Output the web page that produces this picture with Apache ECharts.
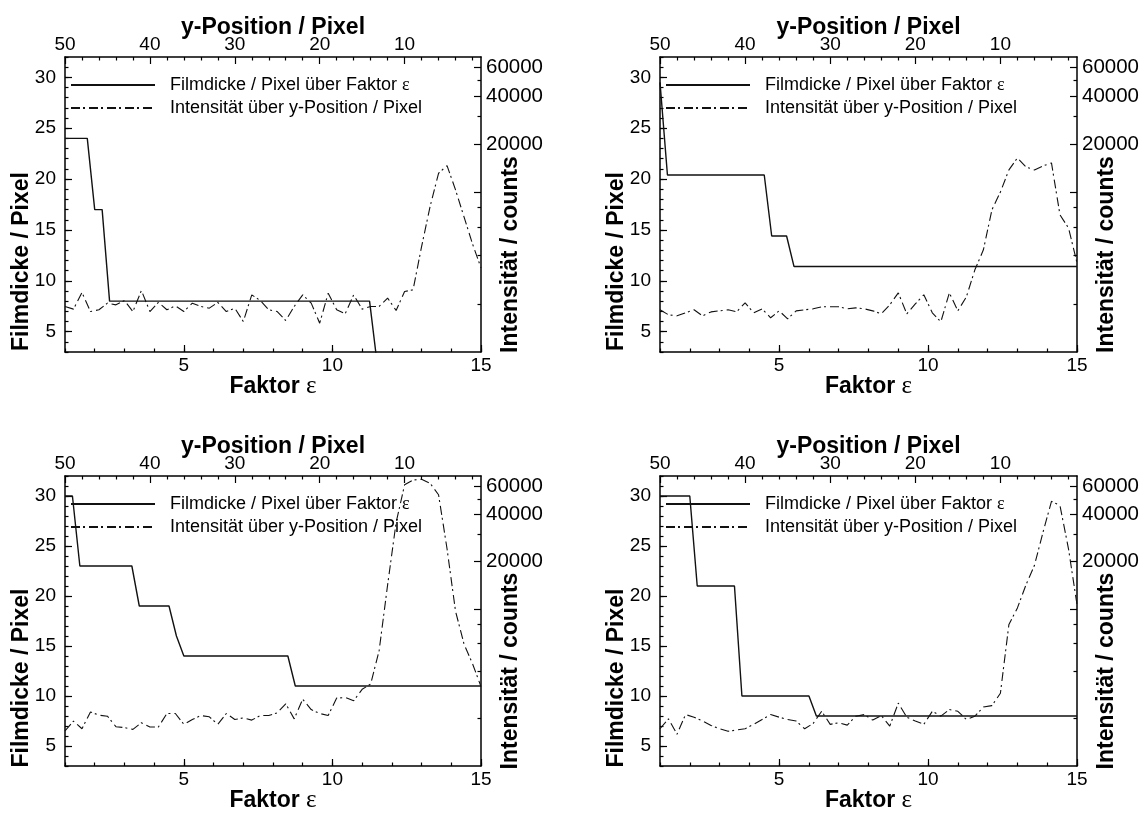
<!DOCTYPE html>
<html>
<head>
<meta charset="utf-8">
<title>Filmdicke / Intensität</title>
<script src="https://cdn.jsdelivr.net/npm/echarts@6/dist/echarts.min.js"></script>
<style>
  html, body { margin: 0; padding: 0; background: #fff; }
  #main { width: 1148px; height: 814px; }
</style>
</head>
<body>
<div id="main"></div>
<script>
// film thickness (Filmdicke / Pixel) over Faktor eps, corner points per panel
const epsTL = [1, 1.75, 2, 2.25, 2.5, 11.25, 11.5];
const filmTL = [24, 24, 17, 17, 8, 8, 2];
const epsTR = [1, 1.25, 4.5, 4.75, 5.25, 5.5, 15];
const filmTR = [29.5, 20.4, 20.4, 14.4, 14.4, 11.4, 11.4];
const epsBL = [1, 1.25, 1.5, 3.25, 3.5, 4.5, 4.75, 5, 8.5, 8.75, 15];
const filmBL = [30, 30, 23, 23, 19, 19, 16, 14, 14, 11, 11];
const epsBR = [1, 2, 2.25, 3.5, 3.75, 6, 6.25, 15];
const filmBR = [30, 30, 21, 21, 10, 10, 8, 8];

// y-Position / Pixel (top axis)
const yPos = [50, 49, 48, 47, 46, 45, 44, 43, 42, 41, 40, 39, 38, 37, 36, 35, 34, 33, 32, 31,
  30, 29, 28, 27, 26, 25, 24, 23, 22, 21, 20, 19, 18, 17, 16, 15, 14, 13, 12, 11,
  10, 9, 8, 7, 6, 5, 4, 3, 2, 1];

// Intensität / counts over y-Position
const intTL = [1927, 1854, 2355, 1791, 1837, 2021, 1972, 2099, 1791, 2425,
  1791, 2042, 1837, 1944, 1791, 2021, 1927, 1880, 2042, 1791,
  1880, 1552, 2278, 2099, 1837, 1791, 1574, 1927, 2278, 2021,
  1514, 2333, 1837, 1734, 2278, 1854, 1927, 1927, 2173, 1820,
  2388, 2449, 4560, 8110, 13120, 14650, 10330, 7000, 4745, 3360];
const intTR = [1836, 1708, 1683, 1758, 1836, 1683, 1782, 1809, 1836, 1782,
  2030, 1758, 1862, 1637, 1809, 1613, 1809, 1836, 1862, 1917,
  1917, 1917, 1862, 1888, 1862, 1809, 1733, 1972, 2344, 1733,
  2000, 2278, 1758, 1545, 2344, 1809, 2213, 3266, 4355, 7745,
  10020, 13770, 16360, 14370, 13770, 14580, 15220, 7200, 5970, 3610];
const intBL = [1671, 1932, 1726, 2208, 2104, 2075, 1778, 1754, 1710, 1884,
  1770, 1770, 2158, 2158, 1841, 1977, 2094, 2056, 1841, 2158,
  1977, 2023, 1959, 2094, 2094, 2178, 2489, 1995, 2661, 2286,
  2158, 2094, 2704, 2729, 2600, 3076, 3319, 5420, 14190, 35400,
  61500, 66070, 66680, 62950, 53200, 24100, 9660, 5970, 4477, 3200];
const intBR = [1726, 1995, 1592, 2124, 2045, 1932, 1813, 1726, 1663, 1694,
  1726, 1841, 1977, 2124, 2045, 1977, 1932, 1726, 1866, 2229,
  1841, 1884, 1820, 2075, 2124, 1959, 2094, 1795, 2512, 2045,
  1932, 1841, 2229, 2075, 2286, 2229, 1977, 2075, 2371, 2421,
  2904, 7962, 10140, 14190, 18920, 30620, 48310, 45400, 24100, 10640];

// tick labels
const epsLabels = [5, 10, 15];
const posLabels = [10, 20, 30, 40, 50];
const posMinor = [2, 4, 6, 8, 12, 14, 16, 18, 22, 24, 26, 28, 32, 34, 36, 38, 42, 44, 46, 48];
const filmLabels = [5, 10, 15, 20, 25, 30];
const countLabels = [20000, 40000, 60000];
const countMajor = [10000, 20000, 40000, 60000];
const countMinor = [2000, 4000, 6000, 8000, 30000, 50000];

const nameFilm = 'Filmdicke / Pixel über Faktor ε';
const nameInt = 'Intensität über y-Position / Pixel';

const FONT = '"Liberation Sans", Arial, Helvetica, sans-serif';
const SERIF = '"Liberation Serif", "Times New Roman", serif';
const black = '#000';

const chart = echarts.init(document.getElementById('main'), null, { renderer: 'canvas' });

const grids = [], xAxes = [], yAxes = [], series = [], legends = [];

const tickLine = { color: black, width: 1.2 };
const lblStyle = { color: black, fontSize: 19, fontFamily: FONT };
const titleStyle = { color: black, fontSize: 23, fontWeight: 'bold', fontFamily: FONT };

function pairs(xs, ys) {
  return xs.map((x, k) => [x, ys[k]]);
}

function addPanel(box, eps, film, inten) {
  const g = grids.length;
  grids.push({ left: box[0], top: box[1], width: box[2], height: box[3], containLabel: false });
  const xi = xAxes.length, yi = yAxes.length;

  // Faktor eps, bottom
  xAxes.push({
    gridIndex: g, type: 'value', position: 'bottom', min: 1, max: 15,
    axisLine: { show: true, onZero: false, lineStyle: { color: black, width: 1.5 } },
    axisTick: { show: true, inside: true, length: 7, customValues: epsLabels, lineStyle: tickLine },
    axisLabel: Object.assign({ customValues: epsLabels, margin: 4 }, lblStyle),
    splitLine: { show: false },
    name: '{b|Faktor }{e|ε}', nameLocation: 'middle', nameGap: 22, nameMoveOverlap: false,
    nameTextStyle: { rich: { b: titleStyle, e: { color: black, fontSize: 25, fontFamily: SERIF } } }
  });
  xAxes.push({
    gridIndex: g, type: 'value', position: 'bottom', min: 1, max: 15, interval: 1,
    axisLine: { show: false }, axisLabel: { show: false }, splitLine: { show: false },
    axisTick: { show: true, inside: true, length: 3.5, lineStyle: tickLine }
  });
  // y-Position, top
  xAxes.push({
    gridIndex: g, type: 'value', position: 'top', min: 1, max: 50, inverse: true,
    axisLine: { show: true, onZero: false, lineStyle: { color: black, width: 1.5 } },
    axisTick: { show: true, inside: true, length: 7, customValues: posLabels, lineStyle: tickLine },
    axisLabel: Object.assign({ customValues: posLabels, margin: 3 }, lblStyle),
    splitLine: { show: false },
    name: 'y-Position / Pixel', nameLocation: 'middle', nameGap: 18, nameMoveOverlap: false,
    nameTextStyle: titleStyle
  });
  xAxes.push({
    gridIndex: g, type: 'value', position: 'top', min: 1, max: 50, inverse: true,
    axisLine: { show: false }, axisLabel: { show: false }, splitLine: { show: false },
    axisTick: { show: true, inside: true, length: 3.5, customValues: posMinor, lineStyle: tickLine }
  });

  // Filmdicke, left
  yAxes.push({
    gridIndex: g, type: 'value', position: 'left', min: 3, max: 32,
    axisLine: { show: true, onZero: false, lineStyle: { color: black, width: 1.5 } },
    axisTick: { show: true, inside: true, length: 7, customValues: filmLabels, lineStyle: tickLine },
    axisLabel: Object.assign({ customValues: filmLabels, margin: 9 }, lblStyle),
    splitLine: { show: false },
    name: 'Filmdicke / Pixel', nameLocation: 'middle', nameGap: 32, nameMoveOverlap: false,
    nameTextStyle: Object.assign({ padding: [0, 114, 0, 0] }, titleStyle)
  });
  yAxes.push({
    gridIndex: g, type: 'value', position: 'left', min: 3, max: 32, interval: 1,
    axisLine: { show: false }, axisLabel: { show: false }, splitLine: { show: false },
    axisTick: { show: true, inside: true, length: 3.5, lineStyle: tickLine }
  });
  // Intensität, right (log)
  yAxes.push({
    gridIndex: g, type: 'log', logBase: 10, position: 'right', min: 1000, max: 70000,
    axisLine: { show: true, onZero: false, lineStyle: { color: black, width: 1.5 } },
    axisTick: { show: true, inside: true, length: 7, customValues: countMajor, lineStyle: tickLine },
    axisLabel: Object.assign({}, lblStyle, {
      customValues: countLabels, margin: 5, fontSize: 20.5, formatter: v => String(Math.round(v))
    }),
    splitLine: { show: false },
    name: 'Intensität / counts', nameLocation: 'middle', nameGap: 18, nameMoveOverlap: false,
    nameTextStyle: Object.assign({ padding: [0, 100, 0, 0] }, titleStyle)
  });
  yAxes.push({
    gridIndex: g, type: 'log', logBase: 10, position: 'right', min: 1000, max: 70000,
    axisLine: { show: false }, axisLabel: { show: false }, splitLine: { show: false },
    axisTick: { show: true, inside: true, length: 3.5, customValues: countMinor, lineStyle: tickLine }
  });

  series.push({
    name: nameFilm, type: 'line', xAxisIndex: xi, yAxisIndex: yi,
    data: pairs(eps, film), symbol: 'none', clip: true, animation: false,
    lineStyle: { color: '#111', width: 1.4, type: 'solid' }, z: 3
  });
  series.push({
    name: nameInt, type: 'line', xAxisIndex: xi + 2, yAxisIndex: yi + 2,
    data: pairs(yPos, inten), symbol: 'none', clip: true, animation: false,
    lineStyle: { color: '#111', width: 1.1, type: [9, 3, 2, 4] }, z: 3
  });

  legends.push({
    left: box[0], top: box[1] + 14, orient: 'vertical',
    itemWidth: 84, itemHeight: 14, itemGap: 5, selectedMode: false,
    data: [nameFilm, nameInt],
    formatter: n => n.replace('ε', '{e|ε}'),
    itemStyle: { opacity: 0 },
    textStyle: {
      color: black, fontSize: 18, fontFamily: FONT, padding: [0, 0, 0, 10],
      rich: { e: { color: black, fontSize: 18, fontFamily: SERIF } }
    }
  });
}

addPanel([65, 57, 416, 295], epsTL, filmTL, intTL);
addPanel([660, 57, 417, 295], epsTR, filmTR, intTR);
addPanel([65, 476, 416, 295], epsBL, filmBL, intBL);
addPanel([660, 476, 417, 295], epsBR, filmBR, intBR);

chart.setOption({
  backgroundColor: '#fff',
  animation: false,
  textStyle: { fontFamily: FONT },
  grid: grids,
  xAxis: xAxes,
  yAxis: yAxes,
  legend: legends,
  series: series
});
</script>
</body>
</html>
